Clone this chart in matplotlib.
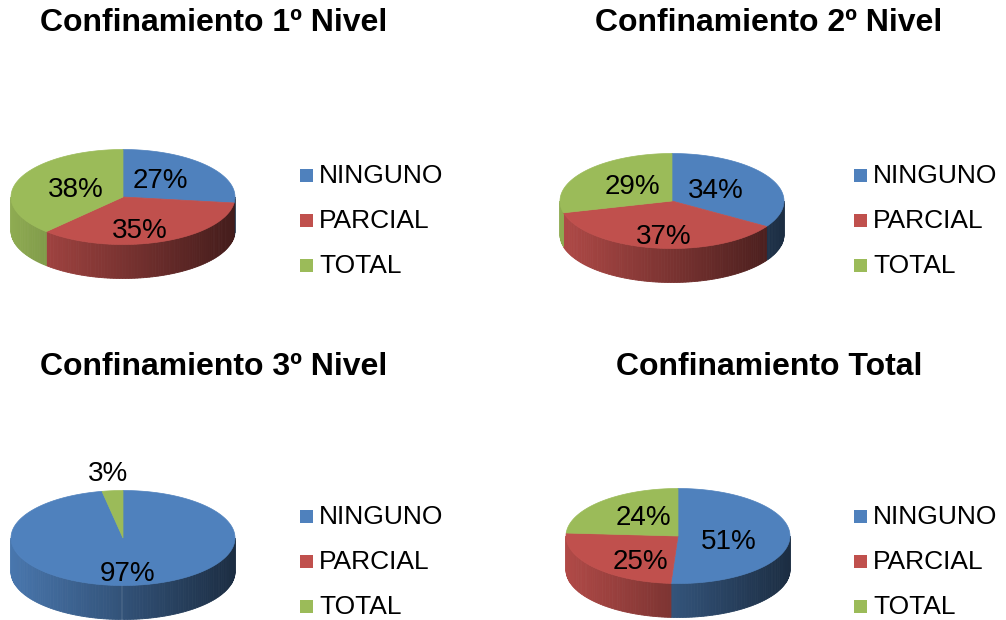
import numpy as np
import matplotlib
matplotlib.use('Agg')
import matplotlib.pyplot as plt
from matplotlib.patches import Polygon, Rectangle

plt.rcParams['font.family'] = ['Liberation Sans', 'DejaVu Sans']

# datos
categorias = ['NINGUNO', 'PARCIAL', 'TOTAL']
titulos = ['Confinamiento 1º Nivel', 'Confinamiento 2º Nivel',
           'Confinamiento 3º Nivel', 'Confinamiento Total']
nivel1 = [27, 35, 38]
nivel2 = [34, 37, 29]
nivel3 = [97, 0, 3]
total = [51, 25, 24]
series = [nivel1, nivel2, nivel3, total]

colores = ['#4F81BD', '#C0504D', '#9BBB59']

# layout (pixels)
W, H = 1006, 620
centros = [(123, 197), (672, 201), (123, 538), (678, 536)]
A, B, DEPTH = 112, 47.5, 34
titulo_pos = [(214, 23), (769, 23), (214, 367), (769, 367)]
leyenda_x = [300, 854, 300, 854]
leyenda_y0 = [175, 175, 516, 516]
fila = 45


def rgb(c):
    c = c.lstrip('#')
    return np.array([int(c[i:i + 2], 16) / 255. for i in (0, 2, 4)])


def punto(cx, cy, t, dy=0.0):
    r = np.radians(t)
    return cx + A * np.cos(r), cy - B * np.sin(r) + dy


def pie3d(ax, cx, cy, vals):
    tot = float(sum(vals))
    ang = 90.0
    trozos = []
    for v, col in zip(vals, colores):
        if v <= 0:
            continue
        sweep = 360.0 * v / tot
        trozos.append((ang - sweep, ang, v, col))
        ang -= sweep
    # side walls (front half only)
    for lo, hi, v, col in trozos:
        a0, a1 = max(lo, -180.0), min(hi, 0.0)
        if a1 <= a0:
            continue
        base = rgb(col)
        ts = np.linspace(a0, a1, max(3, int((a1 - a0) / 1.5)))
        for t0, t1 in zip(ts[:-1], ts[1:]):
            x0, y0 = punto(cx, cy, t0)
            x1, y1 = punto(cx, cy, t1)
            xm = 0.5 * (x0 + x1)
            f = 0.92 - 0.57 * (xm - (cx - A)) / (2 * A)
            c = np.clip(base * f, 0, 1)
            ax.add_patch(Polygon([(x0, y0), (x1, y1), (x1, y1 + DEPTH), (x0, y0 + DEPTH)],
                                 closed=True, facecolor=c, edgecolor=c, lw=0.6))
    # top faces
    for lo, hi, v, col in trozos:
        ts = np.linspace(lo, hi, max(4, int((hi - lo) / 1.0)))
        pts = [(cx, cy)] + [punto(cx, cy, t) for t in ts]
        ax.add_patch(Polygon(pts, closed=True, facecolor=col, edgecolor=col, lw=0.5))
    # labels
    for lo, hi, v, col in trozos:
        mid = np.radians(0.5 * (lo + hi))
        if v / tot < 0.05:
            fx = fy = 1.45
        else:
            fx, fy = 0.45, 0.66
        lx = cx + A * fx * np.cos(mid)
        ly = cy - B * fy * np.sin(mid) + 5
        ax.text(lx, ly, '%d%%' % round(100 * v / tot), fontsize=20,
                ha='center', va='center', color='black')


fig = plt.figure(figsize=(W / 100., H / 100.), dpi=100)
ax = fig.add_axes([0, 0, 1, 1])
ax.set_xlim(0, W)
ax.set_ylim(H, 0)
ax.axis('off')

for i in range(4):
    cx, cy = centros[i]
    pie3d(ax, cx, cy, series[i])
    tx, ty = titulo_pos[i]
    ax.text(tx, ty, titulos[i], fontsize=23, fontweight='bold',
            ha='center', va='center')
    for j, cat in enumerate(categorias):
        y = leyenda_y0[i] + j * fila
        ax.add_patch(Rectangle((leyenda_x[i], y - 6.5), 13, 13,
                               facecolor=colores[j], edgecolor='none'))
        ax.text(leyenda_x[i] + 19, y + 1, cat, fontsize=19, ha='left', va='center')

plt.savefig('out.png', dpi=100)
plt.close()
